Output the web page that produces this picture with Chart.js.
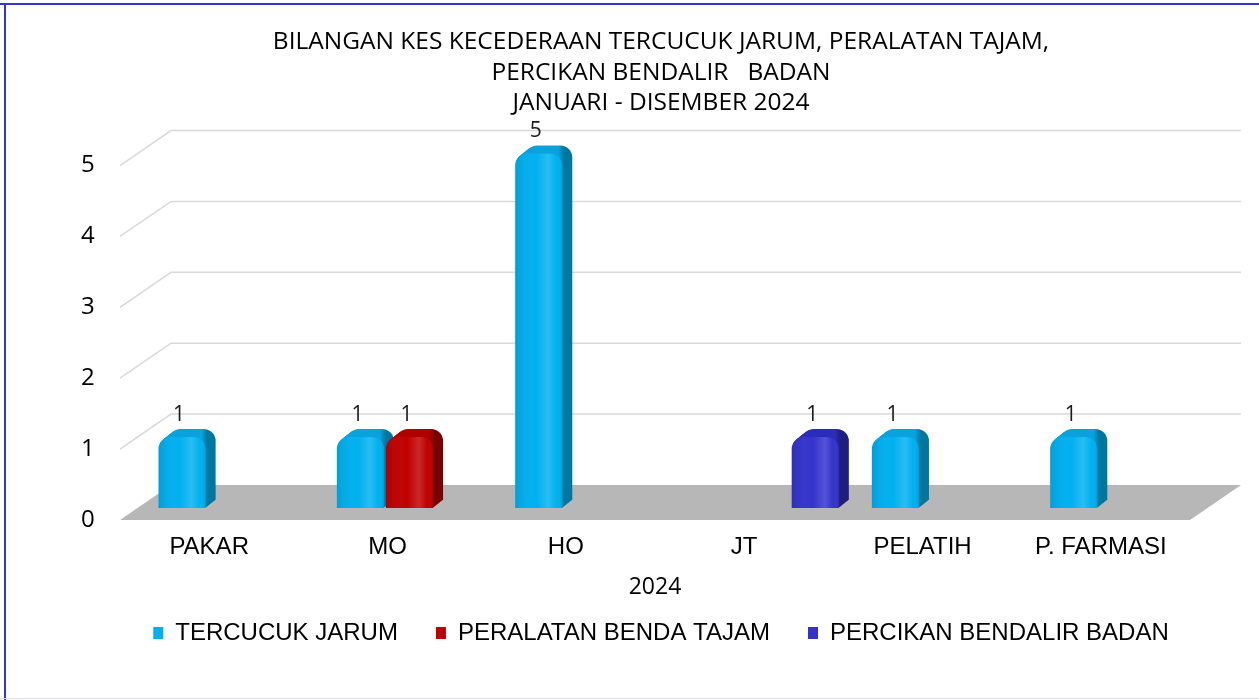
<!DOCTYPE html>
<html>
<head>
<meta charset="utf-8">
<title>Bilangan Kes Kecederaan 2024</title>
<script src="https://cdn.jsdelivr.net/npm/chart.js@4.4.1/dist/chart.umd.min.js"></script>
<style>
  html, body { margin: 0; padding: 0; background: #fff; }
  #wrap { position: relative; width: 1259px; height: 700px; }
  .edge { position: absolute; pointer-events: none; }
</style>
</head>
<body>
<div id="wrap">
  <canvas id="injuryChart"></canvas>
  <div class="edge" style="left:0;top:3px;width:1259px;height:2px;background:#3535d0"></div>
  <div class="edge" style="left:4px;top:3px;width:2px;height:697px;background:#3535d0"></div>
  <div class="edge" style="left:0;top:698px;width:1259px;height:1px;background:#dcdcf2"></div>
</div>
<script>
// categories and counts
const categories = ['PAKAR', 'MO', 'HO', 'JT', 'PELATIH', 'P. FARMASI'];
const tercucukJarum = [1, 1, 5, 0, 1, 1];
const peralatanBendaTajam = [0, 1, 0, 0, 0, 0];
const percikanBendalirBadan = [0, 0, 0, 1, 0, 0];
const yTicks = [0, 1, 2, 3, 4, 5];

const titleLines = [
    'BILANGAN KES KECEDERAAN TERCUCUK JARUM, PERALATAN TAJAM,',
    'PERCIKAN BENDALIR   BADAN',
    'JANUARI - DISEMBER 2024'
];
const axisTitle = '2024';

// pseudo 3D geometry
const depth = { x: 51, y: 35 };     // floor / back wall depth
const frontEdge = { x: -22, y: 12 }; // bar plane -> front edge of floor
const bar3d = { x: 10, y: 8, r: 12 };

const room3d = {
    id: 'room3d',
    beforeDatasetsDraw(chart) {
        const { ctx, chartArea: a, scales: { y } } = chart;
        const fl = a.left + frontEdge.x;
        const fr = a.right + frontEdge.x;
        const y0 = y.getPixelForValue(0) + frontEdge.y;
        ctx.save();

        // back wall grid lines
        ctx.strokeStyle = '#d9d9d9';
        ctx.lineWidth = 1.5;
        yTicks.forEach(v => {
            if (v === 0) return;
            const yf = y.getPixelForValue(v) + frontEdge.y;
            ctx.beginPath();
            ctx.moveTo(fl, yf);
            ctx.lineTo(fl + depth.x, yf - depth.y);
            ctx.lineTo(fr + depth.x, yf - depth.y);
            ctx.stroke();
        });

        // floor
        ctx.fillStyle = '#b7b7b7';
        ctx.beginPath();
        ctx.moveTo(fl, y0);
        ctx.lineTo(fr, y0);
        ctx.lineTo(fr + depth.x, y0 - depth.y);
        ctx.lineTo(fl + depth.x, y0 - depth.y);
        ctx.closePath();
        ctx.fill();

        // bar tops and sides, extruded behind the front faces
        chart.data.datasets.forEach((ds, di) => {
            chart.getDatasetMeta(di).data.forEach((el, i) => {
                if (!ds.data[i]) return;
                const w = el.width, L = el.x - w / 2, h = el.base - el.y;
                const g = ctx.createLinearGradient(L, 0, L + w + bar3d.x, 0);
                const k = (w - 4) / (w + bar3d.x);
                g.addColorStop(0, ds.topColor);
                g.addColorStop(k, ds.topColor);
                g.addColorStop(Math.min(1, k + 0.1), ds.sideColor);
                g.addColorStop(1, ds.sideColor);
                ctx.fillStyle = g;
                for (let s = 1; s <= 12; s++) {
                    ctx.beginPath();
                    ctx.roundRect(L + bar3d.x * s / 12, el.y - bar3d.y * s / 12, w, h, [bar3d.r, bar3d.r, 0, 0]);
                    ctx.fill();
                }
            });
        });
        ctx.restore();
    },
    afterDatasetsDraw(chart) {
        const { ctx } = chart;
        ctx.save();
        chart.data.datasets.forEach((ds, di) => {
            chart.getDatasetMeta(di).data.forEach((el, i) => {
                if (!ds.data[i]) return;
                const w = el.width, L = el.x - w / 2, h = el.base - el.y;
                // shine on the front face
                ctx.save();
                ctx.beginPath();
                ctx.roundRect(L, el.y, w, h, [bar3d.r, bar3d.r, 0, 0]);
                ctx.clip();
                const g = ctx.createLinearGradient(L, 0, L + w, 0);
                g.addColorStop(0, 'rgba(0,0,0,0.10)');
                g.addColorStop(0.45, 'rgba(255,255,255,0)');
                g.addColorStop(0.7, 'rgba(255,255,255,0.16)');
                g.addColorStop(0.88, 'rgba(255,255,255,0)');
                g.addColorStop(1, 'rgba(0,0,0,0.10)');
                ctx.fillStyle = g;
                ctx.fillRect(L, el.y, w, h);
                ctx.restore();

                // value label
                ctx.fillStyle = '#1a1a1a';
                ctx.font = '21px "Open Sans"';
                ctx.textAlign = 'center';
                ctx.textBaseline = 'middle';
                ctx.fillText(String(ds.data[i]), el.x - 3, el.y - 22);
            });
        });
        ctx.restore();
    },
    afterDraw(chart) {
        const { ctx, chartArea: a } = chart;
        ctx.save();
        ctx.fillStyle = '#000';
        ctx.font = '23px "Open Sans"';
        ctx.textAlign = 'center';
        ctx.textBaseline = 'middle';
        ctx.fillText(axisTitle, (a.left + a.right) / 2 + frontEdge.x, 587);
        ctx.restore();
    }
};

const data = {
    labels: categories,
    datasets: [{
            label: 'TERCUCUK JARUM',
            data: tercucukJarum,
            backgroundColor: '#00b0f0',
            topColor: '#0aa2dc',
            sideColor: '#00779e'
        },
        {
            label: 'PERALATAN BENDA TAJAM',
            data: peralatanBendaTajam,
            backgroundColor: '#c00000',
            topColor: '#b00000',
            sideColor: '#780000'
        },
        {
            label: 'PERCIKAN BENDALIR BADAN',
            data: percikanBendalirBadan,
            backgroundColor: '#3333cc',
            topColor: '#2c2cba',
            sideColor: '#1e1e80'
        }
    ]
};

const config = {
    type: 'bar',
    data: data,
    options: {
        responsive: true,
        maintainAspectRatio: false,
        animation: false,
        layout: { padding: { left: 110, right: 47, top: 0, bottom: 45 } },
        datasets: {
            bar: {
                categoryPercentage: 0.826,
                barPercentage: 0.96,
                borderRadius: { topLeft: 12, topRight: 12 },
                clip: false
            }
        },
        plugins: {
            title: {
                display: true,
                text: titleLines,
                color: '#000',
                font: { family: 'Open Sans', size: 24.5, weight: 'normal', lineHeight: 1.245 },
                padding: { top: 27, bottom: 35 }
            },
            legend: {
                position: 'bottom',
                labels: {
                    color: '#000',
                    font: { family: 'Liberation Sans', size: 24 },
                    boxWidth: 10,
                    boxHeight: 12,
                    padding: 38
                }
            },
            tooltip: { enabled: false }
        },
        scales: {
            x: {
                grid: { display: false, drawTicks: false },
                border: { display: false },
                ticks: {
                    color: '#000',
                    font: { family: 'Liberation Sans', size: 24 },
                    padding: 25,
                    labelOffset: frontEdge.x,
                    maxRotation: 0
                },
                afterFit(s) { s.height = 75; }
            },
            y: {
                min: 0,
                max: 5,
                grid: { display: false, drawTicks: false },
                border: { display: false },
                afterBuildTicks(s) { s.ticks = yTicks.map(v => ({ value: v })); },
                ticks: {
                    color: '#000',
                    font: { family: 'Open Sans', size: 24 },
                    mirror: true,
                    padding: -61,
                    labelOffset: frontEdge.y
                },
                afterFit(s) { s.width = 32; }
            }
        }
    },
    plugins: [room3d]
};

const injuryChart = new Chart(document.getElementById('injuryChart'), config);
</script>
</body>
</html>
